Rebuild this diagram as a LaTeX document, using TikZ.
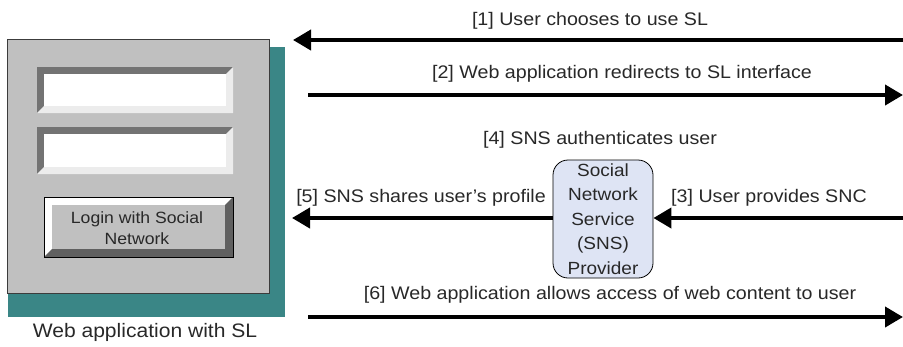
\documentclass[tikz,border=0pt]{standalone}
\usepackage{fontspec}
\setmainfont[FakeStretch=1.08]{Liberation Sans}
\usetikzlibrary{arrows.meta}
\definecolor{teal1}{RGB}{58,134,134}
\definecolor{gbox}{RGB}{192,192,192}
\definecolor{snsfill}{RGB}{222,228,244}
\definecolor{txt}{RGB}{40,40,40}
\tikzset{
  flow/.style={line width=4pt,-{Triangle[length=18pt,width=20pt]}},
  lbl/.style={font=\fontsize{18.2}{21}\selectfont,inner sep=0pt,text=txt},
}
\begin{document}
\begin{tikzpicture}[x=1pt,y=-1pt]
\useasboundingbox (0,0) rectangle (903,346);
% shadow and main window
\fill[teal1] (8,47) rectangle (285,317);
\node[draw={rgb,255:red,60;green,60;blue,60},line width=1.2pt,fill=gbox,minimum width=262pt,minimum height=254pt,inner sep=0pt,anchor=north west] (web) at (7,39) {};
% text field 1
\fill[gray!90!black] (37,67) -- (233,67) -- (226,74) -- (44,74) -- (44,106) -- (37,113) -- cycle;
\fill[gray!15] (233,67) -- (233,113) -- (37,113) -- (44,106) -- (226,106) -- (226,74) -- cycle;
\node[fill=white,minimum width=182pt,minimum height=32pt,inner sep=0pt,anchor=north west] (f1) at (44,74) {};
% text field 2
\fill[gray!90!black] (37,127) -- (233,127) -- (226,134) -- (44,134) -- (44,167) -- (37,174) -- cycle;
\fill[gray!15] (233,127) -- (233,174) -- (37,174) -- (44,167) -- (226,167) -- (226,134) -- cycle;
\node[fill=white,minimum width=182pt,minimum height=33pt,inner sep=0pt,anchor=north west] (f2) at (44,134) {};
% button
\fill[white] (44,197) -- (233,197) -- (225,205) -- (52,205) -- (52,249) -- (44,257) -- cycle;
\fill[gray!75!black] (233,197) -- (233,257) -- (44,257) -- (52,249) -- (225,249) -- (225,205) -- cycle;
\fill[gbox] (52,205) rectangle (225,249);
\draw[line width=1pt] (44,197) rectangle (233,257);
\node[font=\fontsize{16.3}{21}\selectfont,align=center,text=txt,inner sep=0pt] (btn) at (137,228) {Login with Social\\Network};
\node[lbl,font=\fontsize{19.5}{22}\selectfont] (weblbl) at (145,332) {Web application with SL};
% SNS provider
\node[draw,line width=0.8pt,fill=snsfill,rounded corners=15pt,minimum width=100pt,minimum height=118pt,align=center,inner sep=0pt,text=txt,font=\fontsize{17.6}{24.5}\selectfont] (sns) at (603,219) {Social\\Network\\Service\\(SNS)\\Provider};
% coordinates
\coordinate (r1) at (903,40);
\coordinate (l1) at (293,40);
\coordinate (l2) at (308,95);
\coordinate (r2) at (903,95);
\coordinate (l5) at (292,218);
\coordinate (r3) at (903,218);
\coordinate (l6) at (308,317);
\coordinate (r6) at (903,317);
% arrows
\draw[flow] (r1) -- (l1);
\draw[flow] (l2) -- (r2);
\draw[flow] (sns.west |- l5) -- (l5);
\draw[flow] (r3) -- (sns.east |- r3);
\draw[flow] (l6) -- (r6);
% labels
\node[lbl] (t1) at (590,21) {[1] User chooses to use SL};
\node[lbl] (t2) at (622,74) {[2] Web application redirects to SL interface};
\node[lbl] (t4) at (600,140) {[4] SNS authenticates user};
\node[lbl] (t5) at (421,198) {[5] SNS shares user’s profile};
\node[lbl] (t3) at (769,198) {[3] User provides SNC};
\node[lbl] (t6) at (610,295) {[6] Web application allows access of web content to user};
\end{tikzpicture}
\end{document}
